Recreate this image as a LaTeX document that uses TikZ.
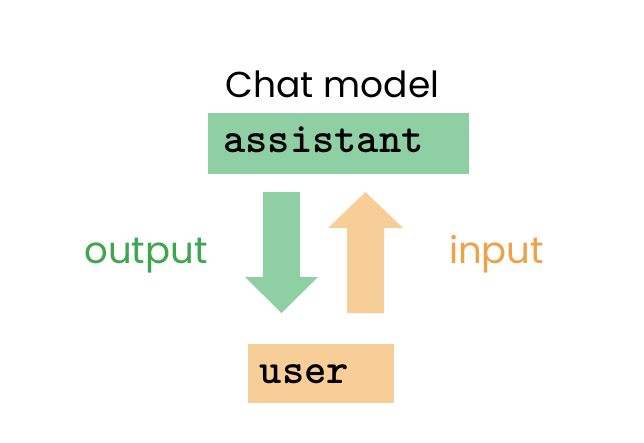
\documentclass[tikz,border=0pt]{standalone}
\usepackage{fontspec}
\setmainfont{Poppins}
\usetikzlibrary{calc}
\definecolor{boxgreen}{RGB}{142,208,164}
\definecolor{boxorange}{RGB}{248,206,152}
\definecolor{txtgreen}{RGB}{62,166,78}
\definecolor{txtorange}{RGB}{238,162,72}
\tikzset{
  codebox/.style={draw=none, inner sep=0pt},
  codetext/.style={anchor=base, font=\ttfamily\bfseries\fontsize{42.5}{48}\selectfont},
  sidetext/.style={anchor=base, font=\fontsize{37}{42}\selectfont}
}

\begin{document}
\begin{tikzpicture}[x=1pt, y=-1pt]
			%%%%% START %%%%%
			\useasboundingbox[fill=white] (0, 0) rectangle (644, 442);
			
			\node[anchor=base, font=\fontsize{36}{42}\selectfont] (chat) at (332.5, 97) {Chat model};
			
			\node[codebox, fill=boxgreen, minimum width=261, minimum height=61] (assistant) at (338.5, 143.5) {};
			\node[codetext] (assistanttxt) at (323.5, 152) {assistant};
			
			\node[codebox, fill=boxorange, minimum width=146, minimum height=59] (user) at (321, 373.5) {};
			\node[codetext] (usertxt) at (304.5, 383) {user};
			
			\draw[fill=boxgreen, draw=none] (263, 192) -- (300, 192) -- (300, 277) -- (318, 277) -- (281.5, 313) -- (245, 277) -- (263, 277) -- cycle;
			\draw[fill=boxorange, draw=none] (347, 313) -- (384, 313) -- (384, 228) -- (403, 228) -- (365.5, 192) -- (328, 228) -- (347, 228) -- cycle;
			
			\node[sidetext, color=txtgreen] (output) at (146, 263) {output};
			\node[sidetext, color=txtorange] (input) at (496.5, 263) {input};
			%%%%% END %%%%%
		\end{tikzpicture}
\end{document}
